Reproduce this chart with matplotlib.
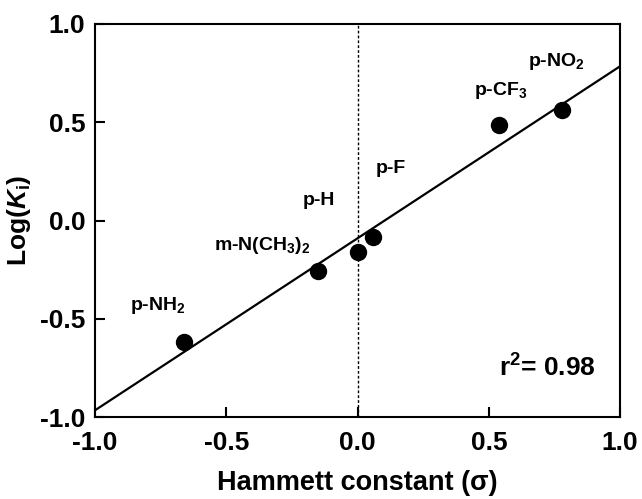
import matplotlib
matplotlib.use('Agg')
import matplotlib.pyplot as plt
import numpy as np

plt.rcParams['font.family'] = ['Liberation Sans', 'DejaVu Sans']
plt.rcParams['font.weight'] = 'bold'
plt.rcParams['mathtext.fontset'] = 'custom'
plt.rcParams['mathtext.rm'] = 'Liberation Sans:bold'
plt.rcParams['mathtext.it'] = 'Liberation Sans:bold:italic'
plt.rcParams['mathtext.bf'] = 'Liberation Sans:bold'

# 数据
sigma = [-0.66, -0.15, 0.0, 0.06, 0.54, 0.78]
logki = [-0.62, -0.257, -0.16, -0.084, 0.486, 0.562]
names = [r'p-NH$_2$', r'm-N(CH$_3$)$_2$', 'p-H', 'p-F', r'p-CF$_3$', r'p-NO$_2$']
label_x = [-0.76, -0.364, -0.147, 0.128, 0.547, 0.756]
label_y = [-0.43, -0.125, 0.104, 0.267, 0.659, 0.807]
slope, intercept = 0.875, -0.09
ticks = [-1.0, -0.5, 0.0, 0.5, 1.0]

fig = plt.figure(figsize=(6.42, 4.99), dpi=100)
ax = fig.add_axes([0.148, 0.164, 0.818, 0.788])

ax.axvline(0, color='black', lw=1.0, ls=(0, (2, 1.5)), zorder=1)
xf = np.array([-1.0, 1.0])
ax.plot(xf, slope * xf + intercept, color='black', lw=1.6, zorder=2)
ax.plot(sigma, logki, 'o', color='black', ms=11.5, zorder=3)

for nm, lx, ly in zip(names, label_x, label_y):
    ax.text(lx, ly, nm, fontsize=14, ha='center', va='center')

ax.text(0.722, -0.75, r'r$^2$= 0.98', fontsize=19, ha='center', va='center')

ax.set_xlim(-1, 1)
ax.set_ylim(-1, 1)
ax.set_xticks(ticks)
ax.set_yticks(ticks)
ax.set_xticklabels(['%.1f' % t for t in ticks])
ax.set_yticklabels(['%.1f' % t for t in ticks])
ax.tick_params(direction='in', length=7, width=1.5, labelsize=19, top=False, right=False)
ax.tick_params(axis='x', pad=10)
ax.tick_params(axis='y', pad=7)
for s in ax.spines.values():
    s.set_linewidth(1.5)

ax.set_xlabel('Hammett constant (σ)', fontsize=19.5, fontweight='bold', labelpad=11)
ax.set_ylabel(r'Log($\it{K}_\mathrm{i}$)', fontsize=19, fontweight='bold', labelpad=5)

plt.savefig('out.png', dpi=100)
